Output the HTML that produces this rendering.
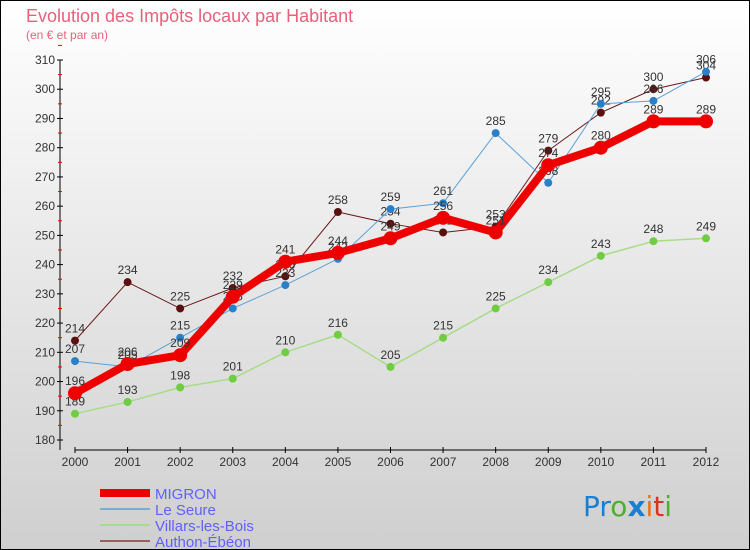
<!DOCTYPE html>
<html><head><meta charset="utf-8"><style>
body{margin:0;width:750px;height:550px;overflow:hidden;font-family:"Liberation Sans",sans-serif}
#wrap{position:absolute;left:0;top:0;width:748px;height:548px;border:1px solid #000;background:linear-gradient(#fff,#cfcfcf)}
</style></head><body>
<div id="wrap">
<svg id="chart" width="750" height="550" style="position:absolute;left:-1px;top:-1px">
<text x="26" y="22" font-size="18" fill="#e8607a">Evolution des Impôts locaux par Habitant</text>
<text x="26" y="39" font-size="12" fill="#e8607a">(en € et par an)</text>
<g id="axes"></g><g id="series"></g><g id="legend"></g>
<text x="583" y="516" font-size="28" font-family="DejaVu Sans,sans-serif"><tspan fill="#1a7fd0">Pr</tspan><tspan fill="#4caf30">o</tspan><tspan fill="#1a7fd0" font-weight="bold">x</tspan><tspan fill="#f07010">i</tspan><tspan fill="#e03020">t</tspan><tspan fill="#4caf30">i</tspan></text>
</svg></div>
<script>
const years=[2000,2001,2002,2003,2004,2005,2006,2007,2008,2009,2010,2011,2012];
const yTicks=[180,190,200,210,220,230,240,250,260,270,280,290,300,310];
const migron=[196,206,209,229,241,244,249,256,251,274,280,289,289];
const leSeure=[207,205,215,225,233,242,259,261,285,268,295,296,306];
const villars=[189,193,198,201,210,216,205,215,225,234,243,248,249];
const authon=[214,234,225,232,236,258,254,251,253,279,292,300,304];
const NS="http://www.w3.org/2000/svg";
const xs=i=>75+i*(706-75)/12;
const ys=v=>440-(v-180)*(380/130);
function mk(t,a,p){const e=document.createElementNS(NS,t);for(const k in a)e.setAttribute(k,a[k]);p.appendChild(e);return e;}
const ax=document.getElementById('axes');
let l=mk('line',{x1:60,y1:ys(310),x2:60,y2:450,stroke:'#000'},ax);


l=mk('line',{x1:75,y1:450,x2:706,y2:450,stroke:'#000'},ax);


yTicks.forEach(v=>{mk('line',{x1:57,x2:63,y1:ys(v),y2:ys(v),stroke:'#000'},ax);
mk('line',{x1:58,x2:62,y1:ys(v+5),y2:ys(v+5),stroke:'#e00'},ax);
const t=mk('text',{x:55,y:ys(v)+4,'text-anchor':'end','font-size':12,fill:'#333'},ax);t.textContent=v;

});
years.forEach((y,i)=>{mk('line',{x1:xs(i),x2:xs(i),y1:447,y2:453,stroke:'#000'},ax);
const t=mk('text',{x:xs(i),y:466,'text-anchor':'middle','font-size':12,fill:'#333'},ax);t.textContent=y;

});
const sg=document.getElementById('series');
const defs=[[authon,'#6a1a1a','#5a1010',1,4,'authon-ebeon'],[villars,'#a8dc88','#70cc40',1.5,4,'villars-les-bois'],[leSeure,'#5aa0d8','#2a80c8',1,4,'le-seure'],[migron,'#ee0000','#ee0000',8,7,'migron']];
defs.forEach(([d,c,pc,w,r,n])=>{
const g=mk('g',{},sg);


const p=mk('polyline',{points:d.map((v,i)=>xs(i)+','+ys(v)).join(' '),fill:'none',stroke:c,'stroke-width':w,'stroke-linejoin':'round'},g);


d.forEach((v,i)=>{const pt=mk('circle',{cx:xs(i),cy:ys(v),r:r,fill:pc},g);


const t=mk('text',{x:xs(i),y:ys(v)-8,'text-anchor':'middle','font-size':12,fill:'#333'},g);t.textContent=v;

});});
const lg=document.getElementById('legend');
[['MIGRON','#ee0000',8],['Le Seure','#7aaed0',2],['Villars-les-Bois','#a8dc88',2],['Authon-Ébéon','#9a6060',2]].forEach(([n,c,w],i)=>{
const y=493+i*16;
const g=mk('g',{},lg);


mk('line',{x1:100,x2:150,y1:y,y2:y,stroke:c,'stroke-width':w},g);
const t=mk('text',{x:155,y:y+6,'font-size':15,fill:'#6060ff'},g);t.textContent=n;});
</script></body></html>
